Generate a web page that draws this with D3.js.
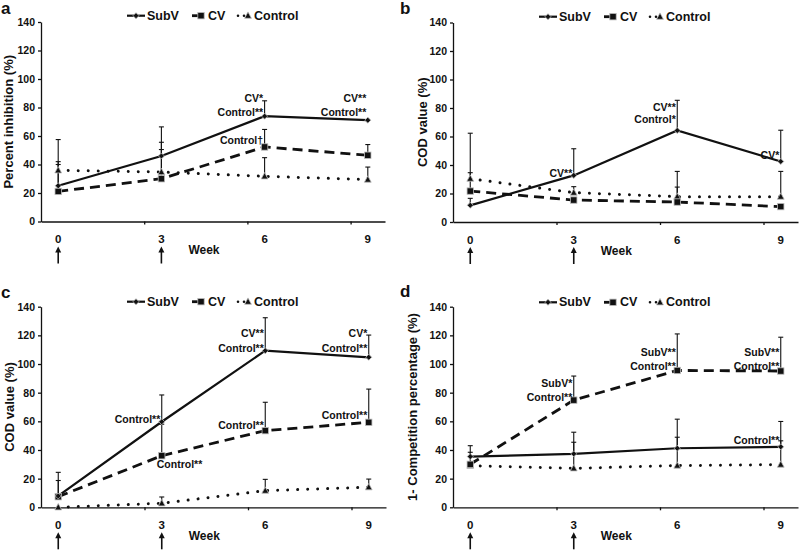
<!DOCTYPE html>
<html><head><meta charset="utf-8">
<script src="https://cdn.jsdelivr.net/npm/d3@7"></script>
<style>body{margin:0;background:#fff}svg{display:block}text{font-family:"Liberation Sans",Arial,sans-serif;font-weight:bold;fill:#111}</style>
</head><body><svg id="c" width="800" height="550"></svg>
<script>
// ---------- data ----------
const weeks = [0, 3, 6, 9];
const xTickLabels = ["0", "3", "6", "9"];
const yTickValues = [0, 20, 40, 60, 80, 100, 120, 140];
const seriesNames = ["SubV", "CV", "Control"];
const arrowWeeks = [0, 3];

// panel a : Percent inhibition
const aSubV = [25.1, 46.0, 73.9, 71.1];
const aSubVErr = [57.5, 66.4, 84.7, null];
const aCV = [21.1, 30.0, 52.3, 46.5];
const aCVErr = [40.0, 50.5, 64.6, 54.0];
const aCtrl = [35.9, 34.7, 31.7, 29.4];
const aCtrlErr = [42.0, 55.6, 44.8, 38.2];
const aNotes = [["CV*", 6, 86.7], ["Control**", 6, 76.5], ["Control\u2020", 6, 57.2],
                ["CV**", 9, 86.7], ["Control**", 9, 76.5]];

// panel b : COD value
const bSubV = [11.7, 32.7, 64.2, 42.5];
const bSubVErr = [16.6, 51.4, 85.4, 64.4];
const bCV = [21.7, 15.4, 14.0, 10.8];
const bCVErr = [34.6, null, 24.5, null];
const bCtrl = [30.4, 20.6, 17.8, 17.8];
const bCtrlErr = [62.3, 24.8, 35.5, 35.5];
const bNotes = [["CV**", 3, 34.2], ["CV**", 6, 80.9], ["Control*", 6, 72.1], ["CV*", 9, 47.0]];

// panel c : COD value
const cSubV = [7.9, 59.7, 109.3, 104.7];
const cSubVErr = [24.4, 78.4, 132.3, 120.2];
const cCV = [7.4, 36.0, 53.5, 59.3];
const cCVErr = [18.7, 58.0, 73.3, 82.5];
const cCtrl = [0, 2.8, 11.6, 14.0];
const cCtrlErr = [null, 7.2, 19.5, 19.7];
const cNotes = [["Control**", 3, 61.3], ["CV**", 6, 121.4], ["Control**", 6, 111.4], ["Control**", 6, 57.4],
                ["CV*", 9, 121.4], ["Control**", 9, 111.4], ["Control**", 9, 64.4]];
const cNotesBelow = [["Control**", 3, 30.0]];

// panel d : 1- Competition percentage
const dSubV = [35.4, 37.3, 41.2, 42.2];
const dSubVErr = [43.0, 52.4, 61.5, 59.9];
const dCV = [30.0, 74.8, 95.5, 95.1];
const dCVErr = [38.4, 91.6, 121.0, 118.7];
const dCtrl = [29.0, 27.2, 29.1, 29.8];
const dCtrlErr = [null, 45.4, 48.9, 46.4];
const dNotes = [["SubV*", 3, 86.5], ["Control**", 3, 77.2], ["SubV**", 6, 108.6], ["Control**", 6, 98.8],
                ["SubV**", 9, 108.6], ["Control**", 9, 98.8], ["Control**", 9, 47.0]];

// ---------- layout ----------
const panels = [
  {label: "a", lx: 1, ly: 14, title: "Percent inhibition (%)", tx: 8, x0: 41, x1: 385, y0: 221.5, y1: 22, legY: 15.7,
   s: [aSubV, aCV, aCtrl], e: [aSubVErr, aCVErr, aCtrlErr], notes: aNotes, below: []},
  {label: "b", lx: 400, ly: 14, title: "COD value (%)", tx: 422, x0: 453, x1: 798, y0: 222, y1: 22.5, legY: 16.7,
   s: [bSubV, bCV, bCtrl], e: [bSubVErr, bCVErr, bCtrlErr], notes: bNotes, below: []},
  {label: "c", lx: 1, ly: 298, title: "COD value (%)", tx: 9, x0: 41, x1: 386, y0: 507.3, y1: 306.7, legY: 301.7,
   s: [cSubV, cCV, cCtrl], e: [cSubVErr, cCVErr, cCtrlErr], notes: cNotes, below: cNotesBelow},
  {label: "d", lx: 400, ly: 297, title: "1- Competition percentage (%)", tx: 412, x0: 453, x1: 798, y0: 507.3, y1: 306.7, legY: 302.3,
   s: [dSubV, dCV, dCtrl], e: [dSubVErr, dCVErr, dCtrlErr], notes: dNotes, below: []}
];

const svg = d3.select("#c");
const styles = [
  {w: 2.2, dash: null, cap: "butt"},
  {w: 2.8, dash: "10,6", cap: "butt"},
  {w: 3, dash: "0.01,10", cap: "round"}
];

function marker(g, type, cx, cy) {
  if (type === 0) {
    const r = 3;
    g.append("path").attr("d", `M${cx},${cy - r}L${cx + r},${cy}L${cx},${cy + r}L${cx - r},${cy}Z`)
      .attr("fill", "#111").attr("stroke", "#bbb").attr("stroke-width", 0.8);
  } else if (type === 1) {
    g.append("rect").attr("x", cx - 3.2).attr("y", cy - 3.2).attr("width", 6.4).attr("height", 6.4)
      .attr("fill", "#111").attr("stroke", "#bbb").attr("stroke-width", 0.8);
  } else {
    g.append("path").attr("d", `M${cx},${cy - 3.8}L${cx + 3.4},${cy + 2.6}L${cx - 3.4},${cy + 2.6}Z`)
      .attr("fill", "#111").attr("stroke", "#bbb").attr("stroke-width", 0.8);
  }
}

panels.forEach(p => {
  const g = svg.append("g");
  const x = d3.scaleLinear().domain([-0.5, 9.5]).range([p.x0, p.x1]);
  const y = d3.scaleLinear().domain([0, 140]).range([p.y0, p.y1]);

  g.append("text").attr("x", p.lx).attr("y", p.ly).attr("font-size", 17).text(p.label);

  // y axis
  const ya = g.append("g").attr("transform", `translate(${p.x0},0)`)
    .call(d3.axisLeft(y).tickValues(yTickValues).tickSize(3).tickSizeOuter(0).tickPadding(3));
  ya.selectAll("text").attr("font-size", 10.5).style("font-family", '"Liberation Sans",Arial,sans-serif').style("font-weight", "bold").attr("fill", "#111");
  ya.selectAll("line,path").attr("stroke", "#111").attr("stroke-width", 1.3);

  // x axis
  const xa = g.append("g").attr("transform", `translate(0,${p.y0})`)
    .call(d3.axisBottom(x).tickValues([2.5, 5.5, 8.5]).tickFormat("").tickSize(3).tickSizeOuter(0));
  xa.selectAll("line,path").attr("stroke", "#111").attr("stroke-width", 1.3);

  weeks.forEach((w, i) => {
    g.append("text").attr("x", x(w)).attr("y", p.y0 + 21.5).attr("text-anchor", "middle")
      .attr("font-size", 11.5).text(xTickLabels[i]);
  });
  g.append("text").attr("x", x(3) + 27).attr("y", p.y0 + 32.5).attr("font-size", 12).text("Week");

  // arrows
  arrowWeeks.forEach(w => {
    const ax = x(w), top = p.y0 + 25, bot = p.y0 + 42;
    g.append("line").attr("x1", ax).attr("x2", ax).attr("y1", top + 4).attr("y2", bot)
      .attr("stroke", "#111").attr("stroke-width", 1.6);
    g.append("path").attr("d", `M${ax},${top}L${ax + 3},${top + 6}L${ax - 3},${top + 6}Z`).attr("fill", "#111");
  });

  // y title
  const cy = (p.y0 + p.y1) / 2;
  g.append("text").attr("transform", `translate(${p.tx},${cy}) rotate(-90)`).attr("text-anchor", "middle")
    .attr("dominant-baseline", "central").attr("font-size", 13).text(p.title);

  // error bars
  [2, 1, 0].forEach(si => {
    weeks.forEach((w, i) => {
      const top = p.e[si][i];
      if (top == null) return;
      const ex = x(w);
      g.append("line").attr("x1", ex).attr("x2", ex).attr("y1", y(p.s[si][i])).attr("y2", y(top))
        .attr("stroke", "#111").attr("stroke-width", 1.1);
      g.append("line").attr("x1", ex - 2.5).attr("x2", ex + 2.5).attr("y1", y(top)).attr("y2", y(top))
        .attr("stroke", "#111").attr("stroke-width", 1.1);
    });
  });

  // lines
  [2, 1, 0].forEach(si => {
    const line = d3.line().x((d, i) => x(weeks[i])).y(d => y(d));
    const st = styles[si];
    g.append("path").attr("d", line(p.s[si])).attr("fill", "none").attr("stroke", "#111")
      .attr("stroke-width", st.w).attr("stroke-dasharray", st.dash).attr("stroke-linecap", st.cap);
  });
  [2, 1, 0].forEach(si => {
    weeks.forEach((w, i) => marker(g, si, x(w), y(p.s[si][i])));
  });

  // annotations
  p.notes.forEach(n => {
    g.append("text").attr("x", x(n[1]) - 1.5).attr("y", y(n[2])).attr("text-anchor", "end")
      .attr("dominant-baseline", "central").attr("font-size", 10.5).text(n[0]);
  });
  p.below.forEach(n => {
    g.append("text").attr("x", x(n[1]) - 5).attr("y", y(n[2])).attr("text-anchor", "start")
      .attr("dominant-baseline", "central").attr("font-size", 10.5).text(n[0]);
  });

  // legend
  const L = p.x0 + 86, ly = p.legY;
  const lg = g.append("g");
  // SubV
  lg.append("line").attr("x1", L).attr("x2", L + 18).attr("y1", ly).attr("y2", ly).attr("stroke", "#111").attr("stroke-width", 2.2);
  marker(lg, 0, L + 9, ly);
  lg.append("text").attr("x", L + 20).attr("y", ly).attr("dominant-baseline", "central").attr("font-size", 12.5).text(seriesNames[0]);
  // CV
  lg.append("line").attr("x1", L + 65).attr("x2", L + 73).attr("y1", ly).attr("y2", ly).attr("stroke", "#111").attr("stroke-width", 2.8);
  marker(lg, 1, L + 74, ly);
  lg.append("text").attr("x", L + 81).attr("y", ly).attr("dominant-baseline", "central").attr("font-size", 12.5).text(seriesNames[1]);
  // Control
  lg.append("line").attr("x1", L + 111).attr("x2", L + 118).attr("y1", ly).attr("y2", ly).attr("stroke", "#111")
    .attr("stroke-width", 2.6).attr("stroke-dasharray", "0.01,6").attr("stroke-linecap", "round");
  marker(lg, 2, L + 121, ly);
  lg.append("text").attr("x", L + 127).attr("y", ly).attr("dominant-baseline", "central").attr("font-size", 12.5).text(seriesNames[2]);
});
</script></body></html>
